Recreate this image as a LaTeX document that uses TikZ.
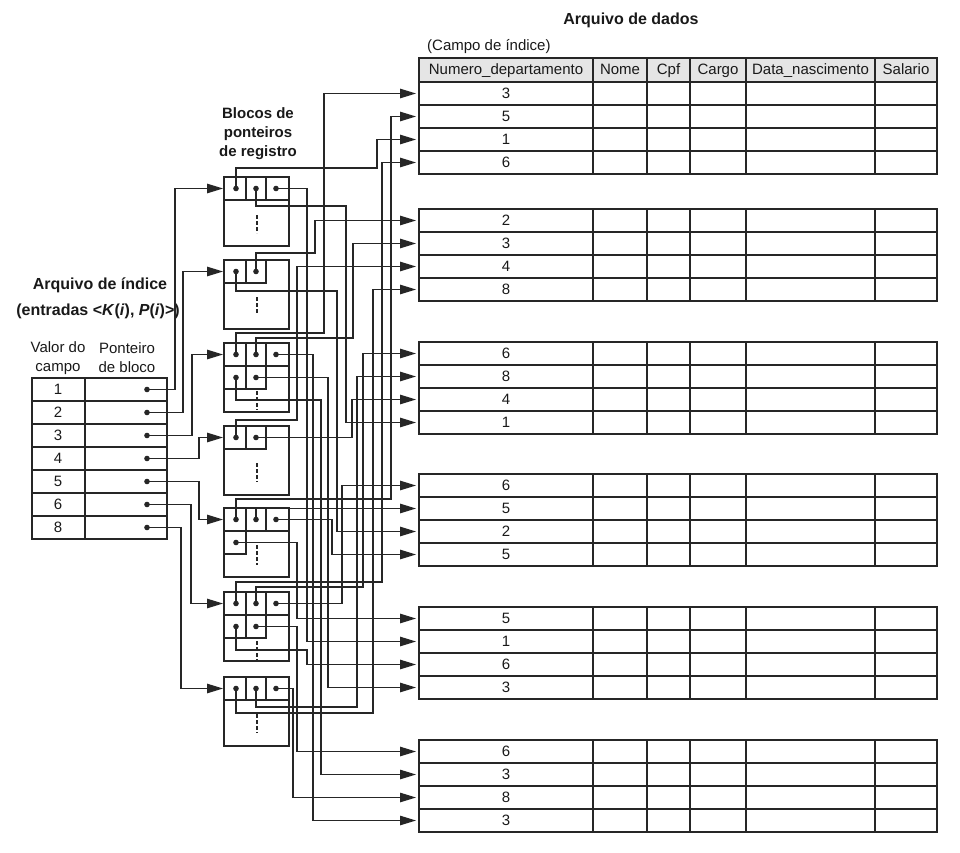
\documentclass[tikz,border=0pt]{standalone}
\usepackage{fontspec}
\setmainfont{Liberation Sans}
\usetikzlibrary{arrows.meta}
\begin{document}
\begin{tikzpicture}[x=1pt,y=-1pt,
  ln/.style={line width=1.15pt, draw=black!85},
  ptr/.style={ln, -{Triangle[length=16pt,width=9.5pt]}},
  txt/.style={font=\fontsize{15}{19}\selectfont, inner sep=0pt, text=black!90},
  cell/.style={txt, anchor=base},
  ttl/.style={font=\fontsize{16}{20}\selectfont\bfseries, inner sep=0pt, align=center, text=black!90},
  dashv/.style={ln, dash pattern=on 3.5pt off 2.5pt},
  slot/.style={fill=black!85}
]
\useasboundingbox (0,0) rectangle (960,853);

% ---------- titles ----------
\node[ttl] (tdados) at (631,20) {Arquivo de dados};
\node[txt, anchor=west] (tcampo) at (427,47) {(Campo de índice)};
\node[ttl, font=\fontsize{15}{19}\selectfont\bfseries] (tblocos) at (258,134) {Blocos de\\ponteiros\\de registro};
\node[ttl] (tindice) at (100,285) {Arquivo de índice};
\node[ttl] (tentr) at (98,311) {(entradas <\textit{K}(\textit{i}), \textit{P}(\textit{i})>)};
\node[txt, align=center] (tvalor) at (58,358) {Valor do\\campo};
\node[txt, align=center] (tpont) at (127,358) {Ponteiro\\de bloco};

% ---------- data file: header ----------
\fill[black!10] (419,58) rectangle (937,82);
\draw[ln] (419,58) rectangle (937,82);
\foreach \cx in {593,647,690,746,875} \draw[ln] (\cx,58) -- (\cx,82);
\node[cell] (h1) at (506,75) {Numero\_departamento};
\node[cell] (h2) at (620,75) {Nome};
\node[cell] (h3) at (668.5,75) {Cpf};
\node[cell] (h4) at (718,75) {Cargo};
\node[cell] (h5) at (810.5,75) {Data\_nascimento};
\node[cell] (h6) at (906,75) {Salario};

% ---------- data file: six blocks of four records ----------
\foreach \g/\tp/\vals in {1/82/{3,5,1,6}, 2/209/{2,3,4,8}, 3/342/{6,8,4,1},
                          4/474/{6,5,2,5}, 5/607/{5,1,6,3}, 6/740/{6,3,8,3}} {
  \draw[ln] (419,\tp) rectangle (937,{\tp+92});
  \foreach \k in {1,2,3} \draw[ln] (419,{\tp+23*\k}) -- (937,{\tp+23*\k});
  \foreach \cx in {593,647,690,746,875} \draw[ln] (\cx,\tp) -- (\cx,{\tp+92});
  \foreach \v [count=\r] in \vals {
    \node[cell] (v\g r\r) at (506,{\tp+23*\r-6.2}) {\v};
    \coordinate (g\g r\r) at (416,{\tp+23*\r-11.5});
  }
}

% ---------- index file ----------
\draw[ln] (32,378) rectangle (167,539);
\draw[ln] (85,378) -- (85,539);
\foreach \k in {1,...,6} \draw[ln] (32,{378+23*\k}) -- (167,{378+23*\k});
\foreach \v [count=\r] in {1,2,3,4,5,6,8} {
  \node[cell] (ix\r) at (58,{378+23*\r-6.2}) {\v};
  \coordinate (k\r) at (147,{378+23*\r-11.5});
  \fill[slot] (k\r) circle[radius=2.8pt];
}

% ---------- record pointer blocks ----------
\newcommand\blockframe[2]{%
  \draw[ln] (224,#1) rectangle (289,{#1+69});
  \coordinate (#2) at (223,{#1+11.5});}
\newcommand\rowthree[1]{%
  \draw[ln] (224,{#1+23}) -- (289,{#1+23}) (246,#1) -- (246,{#1+23}) (266,#1) -- (266,{#1+23});}
\newcommand\rowtwo[1]{%
  \draw[ln] (224,{#1+23}) -- (266,{#1+23}) -- (266,#1) (246,#1) -- (246,{#1+23});}
\newcommand\rowone[1]{%
  \draw[ln] (224,{#1+23}) -- (246,{#1+23}) -- (246,#1);}

\blockframe{177}{B1in} \rowthree{177}
\draw[dashv] (257,215) -- (257,233);
\blockframe{260}{B2in} \rowtwo{260}
\draw[dashv] (257,297) -- (257,315);
\blockframe{343}{B3in} \rowthree{343} \rowtwo{366}
\draw[dashv] (257,391) -- (257,410);
\blockframe{426}{B4in} \rowtwo{426}
\draw[dashv] (257,463) -- (257,482);
\blockframe{508}{B5in} \rowthree{508} \rowone{531}
\draw[dashv] (257,545) -- (257,565);
\blockframe{592}{B6in} \rowthree{592} \rowtwo{615}
\draw[dashv] (257,641) -- (257,660);
\blockframe{677}{B7in} \rowthree{677}
\draw[dashv] (257,714) -- (257,733);

% pointer slots
\foreach \n/\px/\py in {b1a/236/188.5, b1b/256/188.5, b1c/276/188.5,
                        b2a/236/271.5, b2b/256/271.5,
                        b3a/236/354.5, b3b/256/354.5, b3c/276/354.5, b3d/236/377.5, b3e/256/377.5,
                        b4a/236/437.5, b4b/256/437.5,
                        b5a/236/519.5, b5b/256/519.5, b5c/276/519.5, b5d/236/542.5,
                        b6a/236/603.5, b6b/256/603.5, b6c/276/603.5, b6d/236/626.5, b6e/256/626.5,
                        b7a/236/688.5, b7b/256/688.5, b7c/276/688.5} {
  \coordinate (\n) at (\px,\py);
  \fill[slot] (\n) circle[radius=2.8pt];
}

% ---------- index entries -> blocks ----------
\draw[ptr] (k1) -| (175,188.5) -- (B1in);
\draw[ptr] (k2) -| (183,271.5) -- (B2in);
\draw[ptr] (k3) -| (192,354.5) -- (B3in);
\draw[ptr] (k4) -| (199,437.5) -- (B4in);
\draw[ptr] (k5) -| (199,519.5) -- (B5in);
\draw[ptr] (k6) -| (191,603.5) -- (B6in);
\draw[ptr] (k7) -| (181,688.5) -- (B7in);

% ---------- block slots -> records ----------
% slot, turning height, lane, record
\newcommand\route[4]{\draw[ptr] (#1) |- (#3,#2) |- (#4);}
\route{b1a}{168}{377}{g1r3}
\route{b1b}{206}{346}{g3r4}
\route{b1c}{188.5}{307}{g5r2}
\route{b2a}{291}{337}{g4r3}
\route{b2b}{253}{315}{g2r1}
\route{b3a}{333}{324}{g1r1}
\route{b3b}{338}{353}{g2r2}
\route{b3c}{354.5}{313}{g6r4}
\route{b3d}{400}{321}{g6r2}
\route{b3e}{377.5}{328}{g5r4}
\route{b4a}{420}{297}{g2r3}
\route{b4b}{437.5}{352}{g3r3}
\route{b5a}{499}{391}{g1r2}
\draw[ptr] (b5b) |- (g4r2);
\route{b5c}{519.5}{332}{g4r4}
\route{b5d}{542.5}{297}{g5r1}
\route{b6a}{582}{382}{g1r4}
\route{b6b}{587}{363}{g3r1}
\route{b6c}{603.5}{342}{g4r1}
\route{b6d}{650}{307}{g5r3}
\route{b6e}{626.5}{297}{g6r1}
\route{b7a}{713}{373}{g2r4}
\route{b7b}{707}{357}{g3r2}
\route{b7c}{688.5}{293}{g6r3}
\end{tikzpicture}
\end{document}
